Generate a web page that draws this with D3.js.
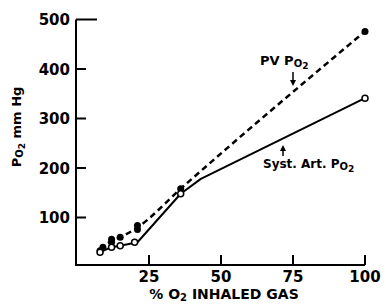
<!DOCTYPE html>
<html>
<head>
<meta charset="utf-8" />
<style>
  body { margin: 0; background: white; }
  text { font-family: "DejaVu Sans", sans-serif; font-weight: bold; fill: black; }
</style>
<script src="https://d3js.org/d3.v7.min.js"></script>
</head>
<body>
<script>
  // % O2 in inhaled gas vs PO2 (mm Hg)
  var pvPct = [8, 9, 12, 12, 15, 21, 21, 36, 100];
  var pvVal = [33, 40, 50, 56, 60, 76, 84, 158, 476];
  var pvLinePct = [8, 12, 15, 21, 36, 100];
  var pvLineVal = [36, 53, 60, 80, 158, 476];

  var artPct = [8, 12, 15, 20, 36, 100];
  var artVal = [30, 40, 43, 50, 148, 341];
  var artLinePct = [8, 12, 15, 21, 36, 43, 100];
  var artLineVal = [30, 40, 43, 50, 148, 178, 341];

  var xTicks = [25, 50, 75, 100];
  var yTicks = [100, 200, 300, 400, 500];

  var width = 386, height = 304;

  var svg = d3.select("body").append("svg")
    .attr("width", width)
    .attr("height", height);

  var x = d3.scaleLinear().domain([0, 100]).range([77, 365]);
  var y = d3.scaleLinear().domain([0, 500]).range([267, 19.5]);
  var axisY = 265, axisX = 76;

  // axes frame
  svg.append("line").attr("x1", axisX).attr("x2", axisX)
    .attr("y1", y(500)).attr("y2", axisY + 1)
    .attr("stroke", "black").attr("stroke-width", 2);
  svg.append("line").attr("x1", axisX).attr("x2", x(100))
    .attr("y1", axisY).attr("y2", axisY)
    .attr("stroke", "black").attr("stroke-width", 2);

  // y ticks (inside)
  yTicks.forEach(function (t) {
    svg.append("line")
      .attr("x1", axisX).attr("x2", axisX + (t === 500 ? 21 : 10))
      .attr("y1", y(t)).attr("y2", y(t))
      .attr("stroke", "black").attr("stroke-width", 2);
    svg.append("text")
      .attr("x", 70).attr("y", y(t) + 5.5)
      .attr("text-anchor", "end")
      .style("font-size", "15px")
      .text(t);
  });

  // x ticks (inside)
  xTicks.forEach(function (t) {
    svg.append("line")
      .attr("x1", x(t)).attr("x2", x(t))
      .attr("y1", axisY - 10).attr("y2", axisY)
      .attr("stroke", "black").attr("stroke-width", 2);
    svg.append("text")
      .attr("x", x(t)).attr("y", 282)
      .attr("text-anchor", "middle")
      .style("font-size", "15px")
      .text(t);
  });

  // axis titles
  var xt = svg.append("text").attr("x", 224).attr("y", 299)
    .attr("text-anchor", "middle").style("font-size", "14px");
  xt.append("tspan").text("% O");
  xt.append("tspan").attr("dy", 2).style("font-size", "10px").text("2");
  xt.append("tspan").attr("dy", -2).text(" INHALED GAS");

  var yt = svg.append("text")
    .attr("transform", "translate(21,127) rotate(-90)")
    .attr("text-anchor", "middle").style("font-size", "13px");
  yt.append("tspan").text("P");
  yt.append("tspan").attr("dy", 2).style("font-size", "10px").text("O");
  yt.append("tspan").attr("dy", 2).style("font-size", "9px").text("2");
  yt.append("tspan").attr("dy", -4).text(" mm Hg");

  // lines
  var pvLine = d3.line()
    .x(function (d) { return x(d[0]); })
    .y(function (d) { return y(d[1]); })
    .curve(d3.curveMonotoneX);
  var artLine = d3.line()
    .x(function (d) { return x(d[0]); })
    .y(function (d) { return y(d[1]); });

  svg.append("path")
    .attr("d", pvLine(d3.zip(pvLinePct, pvLineVal)))
    .attr("fill", "none").attr("stroke", "black")
    .attr("stroke-width", 2.5).attr("stroke-dasharray", "6,4");

  svg.append("path")
    .attr("d", artLine(d3.zip(artLinePct, artLineVal)))
    .attr("fill", "none").attr("stroke", "black")
    .attr("stroke-width", 2).attr("stroke-linejoin", "round");

  // points
  svg.selectAll(".pv").data(d3.zip(pvPct, pvVal)).enter()
    .append("circle").attr("class", "pv")
    .attr("cx", function (d) { return x(d[0]); })
    .attr("cy", function (d) { return y(d[1]); })
    .attr("r", 3.5).attr("fill", "black");

  svg.selectAll(".art").data(d3.zip(artPct, artVal)).enter()
    .append("circle").attr("class", "art")
    .attr("cx", function (d) { return x(d[0]); })
    .attr("cy", function (d) { return y(d[1]); })
    .attr("r", 3).attr("fill", "white")
    .attr("stroke", "black").attr("stroke-width", 1.5);

  // annotations
  var a1 = svg.append("text").attr("x", 260).attr("y", 65).style("font-size", "13px");
  a1.append("tspan").text("PV P");
  a1.append("tspan").attr("dy", 2).style("font-size", "10px").text("O");
  a1.append("tspan").attr("dy", 2).style("font-size", "9px").text("2");

  var a2 = svg.append("text").attr("x", 263).attr("y", 168).style("font-size", "12px");
  a2.append("tspan").text("Syst. Art. P");
  a2.append("tspan").attr("dy", 2).style("font-size", "10px").text("O");
  a2.append("tspan").attr("dy", 2).style("font-size", "9px").text("2");

  var defs = svg.append("defs");
  defs.append("marker").attr("id", "head")
    .attr("viewBox", "0 0 10 10").attr("refX", 5).attr("refY", 5)
    .attr("markerWidth", 4).attr("markerHeight", 4).attr("orient", "auto")
    .append("path").attr("d", "M0,0L10,5L0,10Z").attr("fill", "black");

  svg.append("line").attr("x1", 293).attr("x2", 293).attr("y1", 72).attr("y2", 83)
    .attr("stroke", "black").attr("stroke-width", 1.5).attr("marker-end", "url(#head)");
  svg.append("line").attr("x1", 283).attr("x2", 283).attr("y1", 156).attr("y2", 148)
    .attr("stroke", "black").attr("stroke-width", 1.5).attr("marker-end", "url(#head)");
</script>
</body>
</html>
